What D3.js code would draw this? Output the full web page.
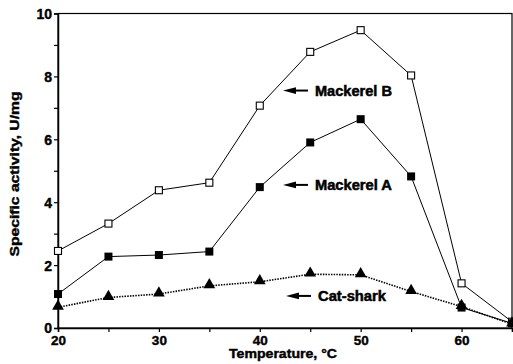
<!DOCTYPE html>
<html><head><meta charset="utf-8">
<script src="https://cdn.jsdelivr.net/npm/d3@7"></script>
<style>body{margin:0;background:#fff}svg{display:block}text{font-family:"Liberation Sans",Arial,sans-serif;font-weight:bold;fill:#000}</style>
</head><body>
<script>
const temps = [20,25,30,35,40,45,50,55,60,65];
const mackerelB = [2.45,3.32,4.38,4.62,7.07,8.78,9.47,8.03,1.42,0.2];
const mackerelA = [1.08,2.27,2.32,2.43,4.48,5.9,6.64,4.82,0.65,0.15];
const catShark = [0.66,0.97,1.08,1.34,1.47,1.71,1.69,1.16,0.68,0.12];
const xTickValues = [20,25,30,35,40,45,50,55,60,65];
const xTickLabels = ["20","","30","","40","","50","","60",""];
const yTickValues = [0,1,2,3,4,5,6,7,8,9,10];
const yTickLabels = ["0","","2","","4","","6","","8","","10"];
const seriesNames = ["Mackerel B","Mackerel A","Cat-shark"];
const labelAnchorsY = [7.55, 4.55, 1.02];
const labelAnchorsX = [42.3, 42.3, 42.6];
const xTitle = "Temperature,  \u00B0C";
const yTitle = "Specific activity,  U/mg";

const W=513,H=364;
const svg=d3.select("body").append("svg").attr("width",W).attr("height",H);
const x=d3.scaleLinear().domain([20,65]).range([58,512]);
const y=d3.scaleLinear().domain([0,10]).range([328,13.5]);

// frame
svg.append("rect").attr("x",58).attr("y",13.5).attr("width",454).attr("height",314.5)
  .attr("fill","none").attr("stroke","#000").attr("stroke-width",1.2);

const xAxis=svg.append("g").attr("transform","translate(0,328)")
  .call(d3.axisBottom(x).tickValues(xTickValues).tickSize(4).tickPadding(2)
  .tickFormat((d,i)=>xTickLabels[i]));
const yAxis=svg.append("g").attr("transform","translate(58,0)")
  .call(d3.axisLeft(y).tickValues(yTickValues).tickSize(4).tickPadding(2)
  .tickFormat((d,i)=>yTickLabels[i]));
[xAxis,yAxis].forEach(a=>{
  a.select(".domain").attr("stroke","#000").attr("stroke-width",1.5);
  a.selectAll(".tick line").attr("stroke","#000").attr("stroke-width",1.2);
  a.selectAll("text").attr("font-size",14).attr("font-family","Liberation Sans, Arial, sans-serif")
    .attr("font-weight","bold").attr("fill","#000").attr("stroke","#000").attr("stroke-width",0.4);
});
xAxis.selectAll("text").attr("font-size",13.5).attr("dy","0.8em");
yAxis.selectAll("text").attr("dx","0").attr("dy","0.35em");

const line=d3.line().x((d,i)=>x(temps[i])).y(d=>y(d));

function drawLine(data,dash){
  svg.append("path").datum(data).attr("d",line).attr("fill","none")
    .attr("stroke","#000").attr("stroke-width",dash?1.6:1)
    .attr("stroke-dasharray",dash?"1.5,1.2":null);
}
drawLine(mackerelB,false);
drawLine(mackerelA,false);
drawLine(catShark,true);

// markers
svg.selectAll(".mb").data(mackerelB).enter().append("rect")
  .attr("x",(d,i)=>x(temps[i])-3.5).attr("y",d=>y(d)-3.5).attr("width",7).attr("height",7)
  .attr("fill","#fff").attr("stroke","#000").attr("stroke-width",1.1);
svg.selectAll(".ma").data(mackerelA).enter().append("rect")
  .attr("x",(d,i)=>x(temps[i])-4).attr("y",d=>y(d)-4).attr("width",8).attr("height",8)
  .attr("fill","#000");
const tri=d3.symbol().type(d3.symbolTriangle).size(60);
svg.selectAll(".cs").data(catShark).enter().append("path")
  .attr("d",tri).attr("transform",(d,i)=>`translate(${x(temps[i])},${y(d)-1})`)
  .attr("fill","#000");

// series labels with arrows
seriesNames.forEach((name,k)=>{
  const yy=y(labelAnchorsY[k]);
  const tipX=x(labelAnchorsX[k]);
  const g=svg.append("g");
  g.append("path").attr("d",`M${tipX},${yy} L${tipX+13},${yy-3.4} L${tipX+13},${yy+3.4} Z`).attr("fill","#000");
  g.append("line").attr("x1",tipX+10).attr("x2",tipX+25).attr("y1",yy).attr("y2",yy)
    .attr("stroke","#000").attr("stroke-width",2);
  g.append("text").attr("x",tipX+32).attr("y",yy).attr("dy","0.36em")
    .attr("font-size",14).attr("textLength",k===2?68:77).attr("lengthAdjust","spacingAndGlyphs")
    .attr("stroke","#000").attr("stroke-width",0.5)
    .text(name);
});

// axis titles
svg.append("text").attr("x",283).attr("y",354).attr("dy","0.35em").attr("text-anchor","middle")
  .attr("font-size",12).attr("textLength",108).attr("lengthAdjust","spacingAndGlyphs")
  .attr("stroke","#000").attr("stroke-width",0.4).text(xTitle);
svg.append("text").attr("transform","translate(15,174) rotate(-90)").attr("dy","0.35em")
  .attr("text-anchor","middle").attr("font-size",12.5).attr("textLength",165)
  .attr("lengthAdjust","spacingAndGlyphs").attr("stroke","#000").attr("stroke-width",0.4).text(yTitle);
</script>
</body></html>
